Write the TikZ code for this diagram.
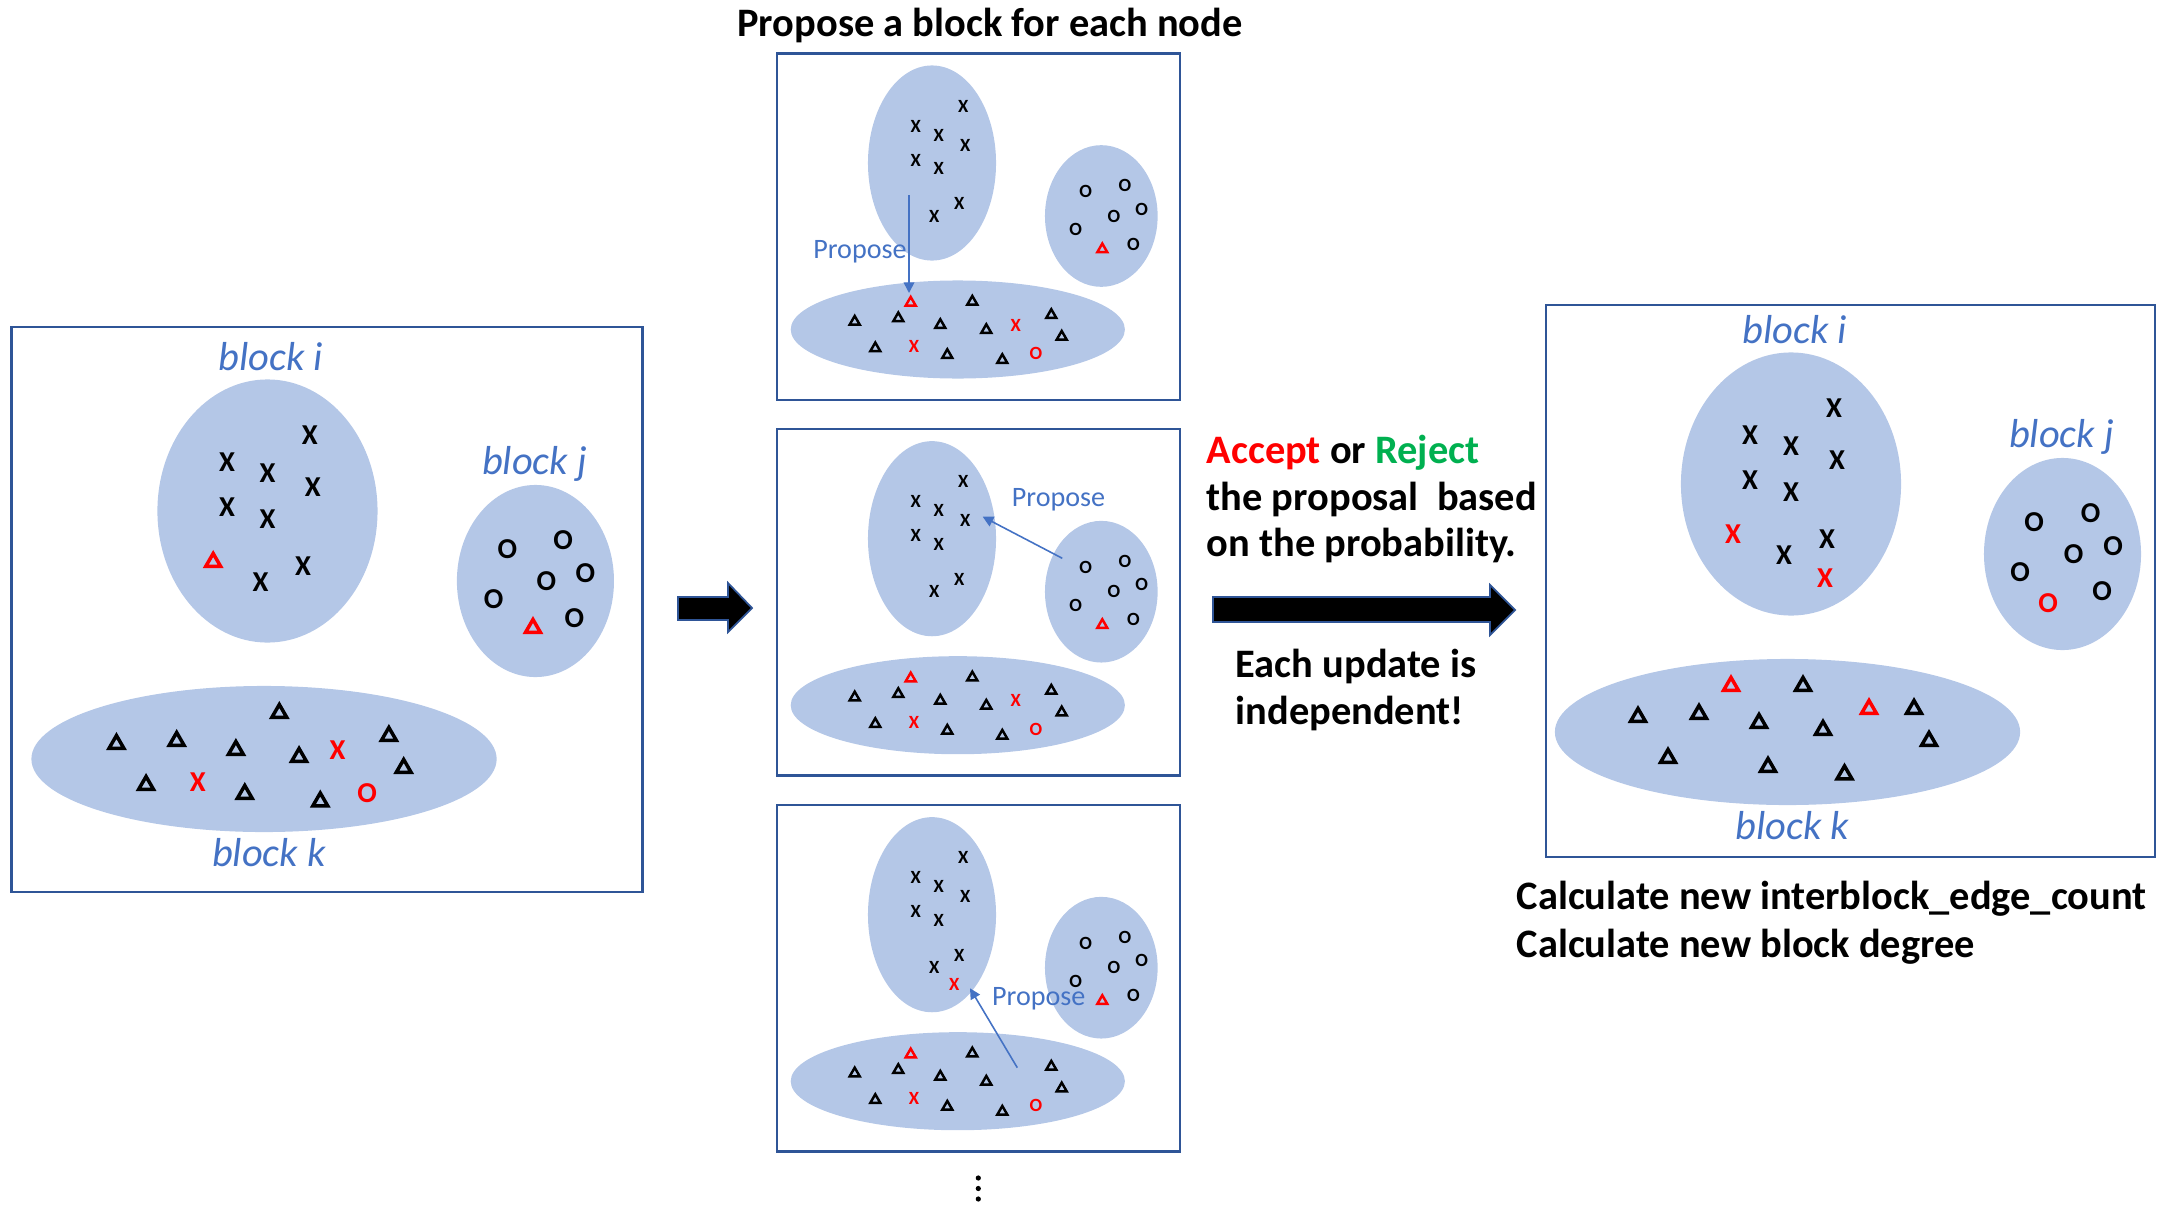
\documentclass[tikz,border=0pt]{standalone}
\usepackage{fontspec}
\setmainfont{Carlito}
\usetikzlibrary{shapes.geometric,arrows.meta}
\definecolor{blockfill}{HTML}{B4C7E7}
\definecolor{panelblue}{HTML}{2F5597}
\definecolor{labelblue}{HTML}{4472C4}
\definecolor{accred}{HTML}{FF0000}
\definecolor{rejgreen}{HTML}{00B050}

\tikzset{
  blob/.style={ellipse, fill=blockfill, inner sep=0},
  panel/.style={draw=panelblue, line width=0.8pt},
  bigmk/.style={font=\fontsize{8.2}{9}\selectfont\bfseries, inner sep=0},
  smallmk/.style={font=\fontsize{5.3}{6}\selectfont\bfseries, inner sep=0},
  bigtri/.style={regular polygon, regular polygon sides=3, draw=black, line width=1pt, minimum size=0.17cm, inner sep=0},
  smalltri/.style={regular polygon, regular polygon sides=3, draw=black, line width=0.7pt, minimum size=0.115cm, inner sep=0},
  blocklbl/.style={font=\fontsize{11.5}{13}\selectfont\itshape, text=labelblue, anchor=base, inner sep=0},
  propose/.style={-{Triangle[length=3pt, width=3pt]}, draw=labelblue, line width=0.45pt},
  proposelbl/.style={font=\fontsize{8}{9}\selectfont, text=labelblue, anchor=base, inner sep=0},
  bigtext/.style={font=\fontsize{11.5}{13}\selectfont\bfseries, anchor=base west, inner sep=0},
  fatarrow/.style={fill=black, draw=panelblue, line width=0.5pt}
}

% blocks i, j, k of the large panels
\newcommand{\bigblocks}[1]{%
  \node[blob, minimum width=2.2cm, minimum height=2.63cm] (#1i) at (271,511) {};
  \node[blob, minimum width=1.57cm, minimum height=1.92cm] (#1j) at (542.5,581) {};
  \node[blob, minimum width=4.65cm, minimum height=1.46cm] (#1k) at (267.5,759) {};
  \node[blocklbl] (#1li) at (274.6,370) {block i};
  \node[blocklbl] (#1lj) at (541.6,474) {block j};
  \node[blocklbl] (#1lk) at (272.5,866) {block k};
  \foreach \x/\y [count=\n] in {314/435,230/462,271/473,317/487,230/507,271/519,307/566.5,264/582}
    \node[bigmk] (#1x\n) at (\x,\y) {X};
  \foreach \x/\y [count=\n] in {514/549,570.6/540.5,553.5/581,593/573,500/599.6,582/618.6}
    \node[bigmk] (#1o\n) at (\x,\y) {O};
  \foreach \x/\y [count=\n] in {283/713,118/744,179/741,239/750,303/757,394/736,409/768,148/785,248/794,324.5/801.5}
    \node[bigtri] (#1t\n) at (\x,\y) {};
}

% blocks i, j, k of the small panels
\newcommand{\smallblocks}[1]{%
  \node[blob, minimum width=1.28cm, minimum height=1.95cm] (#1i) at (932,163) {};
  \node[blob, minimum width=1.126cm, minimum height=1.416cm] (#1j) at (1101.3,216) {};
  \node[blob, minimum width=3.34cm, minimum height=0.98cm] (#1k) at (957.8,329.5) {};
  \foreach \x/\y [count=\n] in {963.3/106,915.7/126,938.7/135,965.3/145,915.7/160,938.7/168.3,959.3/203.3,934.3/216}
    \node[smallmk] (#1x\n) at (\x,\y) {X};
  \foreach \x/\y [count=\n] in {1085.7/191.7,1125/185.7,1114/216,1141.7/209,1075.7/229.3,1133.3/244}
    \node[smallmk] (#1o\n) at (\x,\y) {O};
  \foreach \x/\y [count=\n] in {972.3/301.7,854.7/321.7,898.3/318.3,940.3/325,986.3/330,1051.3/315,1061.7/336.7,875.3/348.3,947.3/355,1002.3/360}
    \node[smalltri] (#1t\n) at (\x,\y) {};
  \node[smalltri, draw=accred] (#1rt) at (910.7,302.7) {};
  \node[smalltri, draw=accred] (#1rj) at (1102.3,249.3) {};
  \node[smallmk, text=accred] (#1rx) at (914,346.7) {X};
  \node[smallmk, text=accred] (#1ro) at (1036,353.3) {O};
}

\begin{document}
\begin{tikzpicture}[x=0.01cm, y=-0.01cm]
\useasboundingbox (0,0) rectangle (2160,1215);

% left panel
\begin{scope}[xscale=0.987]
  \draw[panel] (11.5,327) rectangle (651,892);
  \bigblocks{L}
  \node[bigtri, draw=accred] (Lr1) at (216,562) {};
  \node[bigtri, draw=accred] (Lr2) at (540,628) {};
  \node[bigmk, text=accred] (Lr3) at (342,750.5) {X};
  \node[bigmk, text=accred] (Lr4) at (200.5,782) {X};
  \node[bigmk, text=accred] (Lr5) at (372,793) {O};
\end{scope}

\filldraw[fatarrow] (678,597) -- (728,597) -- (728,583) -- (752,608) -- (728,632) -- (728,620) -- (678,620) -- cycle;

% middle panels
\node[bigtext, anchor=base] (title) at (990,36) {Propose a block for each node};
\foreach \dy [count=\p] in {0,375.7,751.7}{
  \draw[panel] (777,53.3+\dy) rectangle (1180,400+\dy);
  \begin{scope}[shift={(0,\dy)}]
    \smallblocks{M\p}
  \end{scope}
}
\node[smallmk, text=accred] (M1nx) at (1015.7,325) {X};
\node[smallmk, text=accred] (M2nx) at (1015.7,700.7) {X};
\node[smallmk, text=accred] (M3nx) at (954.3,984.3) {X};

\coordinate (p1s) at (909,195);
\coordinate (p1e) at (909,293);
\draw[propose] (p1s) -- (p1e);
\node[proposelbl] (p1l) at (860,258.3) {Propose};

\coordinate (p2s) at (1062.3,558.3);
\coordinate (p2e) at (982.7,516.7);
\draw[propose] (p2s) -- (p2e);
\node[proposelbl] (p2l) at (1058.5,506) {Propose};

\coordinate (p3s) at (1017.3,1067.7);
\coordinate (p3e) at (970,988.3);
\draw[propose] (p3s) -- (p3e);
\node[proposelbl] (p3l) at (1038.8,1005.7) {Propose};

\foreach \y in {1178,1188.5,1199}
  \fill (978.3,\y) circle [radius=2.6];

% accept / reject
\node[bigtext] (acc1) at (1206,463) {\textcolor{accred}{Accept} or \textcolor{rejgreen}{Reject}};
\node[bigtext] (acc2) at (1206,510) {the proposal~ based};
\node[bigtext] (acc3) at (1206,556) {on the probability.};
\filldraw[fatarrow] (1213,597) -- (1490,597) -- (1490,585) -- (1515,610) -- (1490,635) -- (1490,622) -- (1213,622) -- cycle;
\node[bigtext] (ind1) at (1235,677) {Each update is};
\node[bigtext] (ind2) at (1235,724) {independent!};

% right panel
\draw[panel] (1546,305) rectangle (2155,857);
\begin{scope}[shift={(1520,-27)}]
  \bigblocks{R}
  \node[bigmk, text=accred] (Rr1) at (213,561) {X};
  \node[bigmk, text=accred] (Rr2) at (305,605.5) {X};
  \node[bigmk, text=accred] (Rr3) at (528,630.5) {O};
  \node[bigtri, draw=accred] (Rr4) at (211,713) {};
  \node[bigtri, draw=accred] (Rr5) at (349,736) {};
\end{scope}
\node[bigtext] (calc1) at (1516,909) {Calculate new interblock\_edge\_count};
\node[bigtext] (calc2) at (1516,957) {Calculate new block degree};
\end{tikzpicture}
\end{document}
